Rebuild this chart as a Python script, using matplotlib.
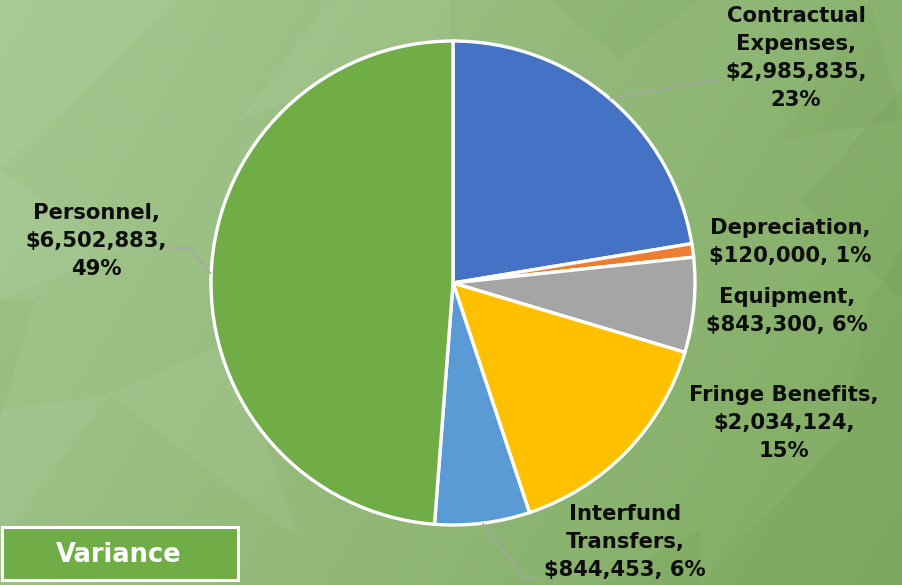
import numpy as np
import matplotlib
matplotlib.use("Agg")
import matplotlib.pyplot as plt
from matplotlib.patches import Polygon, Rectangle
from matplotlib.colors import to_rgb

# Budget categories (clockwise from 12 o'clock)
categories = ["Contractual Expenses", "Depreciation", "Equipment",
              "Fringe Benefits", "Interfund Transfers", "Personnel"]
amounts = [2985835, 120000, 843300, 2034124, 844453, 6502883]
pct_labels = ["23%", "1%", "6%", "15%", "6%", "49%"]
colors = ["#4472C4", "#ED7D31", "#A5A5A5", "#FFC000", "#5B9BD5", "#70AD47"]

W, H = 902, 585
fig = plt.figure(figsize=(W / 100, H / 100), dpi=100)
ax = fig.add_axes([0, 0, 1, 1])
ax.set_xlim(0, W)
ax.set_ylim(0, H)
ax.axis("off")

# ---- faceted green backdrop ----
yy, xx = np.mgrid[0:H, 0:W]
t = 0.72 * (xx / W) + 0.28 * ((H - yy) / H)
t = (t - t.min()) / (t.max() - t.min())
c0 = np.array(to_rgb("#a5c791"))
c1 = np.array(to_rgb("#80ab62"))
grad = c0[None, None, :] * (1 - t[..., None]) + c1[None, None, :] * t[..., None]
ax.imshow(grad, extent=(0, W, 0, H), origin="lower", zorder=0, aspect="auto")


def flip(pts):
    # polygon corners given from the top-left corner, y pointing down
    return [(x, H - y) for x, y in pts]


facets_light = [
    [(0, 0), (25, 0), (0, 60)],
    [(25, 0), (180, 0), (0, 170), (0, 60)],
    [(330, 0), (450, 0), (450, 40)],
    [(330, 0), (240, 120), (450, 40)],
    [(0, 540), (110, 395), (0, 410)],
    [(110, 395), (300, 540), (230, 340)],
    [(560, 380), (700, 330), (600, 250)],
    [(0, 170), (120, 250), (0, 300)],
]
facets_dark = [
    [(700, 585), (902, 585), (902, 380), (840, 440)],
    [(800, 200), (902, 90), (902, 300)],
    [(0, 300), (35, 300), (0, 420)],
    [(780, 140), (902, 120), (870, 0)],
    [(840, 440), (902, 380), (902, 250), (870, 300)],
    [(550, 0), (700, 0), (620, 60)],
    [(600, 585), (700, 585), (700, 530)],
]
for pts in facets_light:
    ax.add_patch(Polygon(flip(pts), closed=True, facecolor="white", alpha=0.05,
                         edgecolor="none", zorder=1))
for pts in facets_dark:
    ax.add_patch(Polygon(flip(pts), closed=True, facecolor="#3d6b20", alpha=0.05,
                         edgecolor="none", zorder=1))

# ---- pie ----
cx, cy, R = 453, H - 283, 242
wedges, _ = ax.pie(amounts, colors=colors, startangle=90, counterclock=False,
                   center=(cx, cy), radius=R, frame=True,
                   wedgeprops=dict(edgecolor="white", linewidth=2.4))
for w in wedges:
    w.set_zorder(3)
ax.set_xlim(0, W)
ax.set_ylim(0, H)
ax.set_aspect("equal")
ax.axis("off")


def edge_point(w):
    ang = np.deg2rad((w.theta1 + w.theta2) / 2)
    return cx + R * np.cos(ang), cy + R * np.sin(ang)


def money(v):
    return "${:,}".format(v)


txt = dict(fontsize=15.2, fontweight="bold", color="#0d0d0d",
           ha="center", va="center", linespacing=1.5, zorder=5,
           family="DejaVu Sans")

labels = [
    "Contractual\nExpenses,\n{},\n{}".format(money(amounts[0]), pct_labels[0]),
    "Depreciation,\n{}, {}".format(money(amounts[1]), pct_labels[1]),
    "Equipment,\n{}, {}".format(money(amounts[2]), pct_labels[2]),
    "Fringe Benefits,\n{},\n{}".format(money(amounts[3]), pct_labels[3]),
    "Interfund\nTransfers,\n{}, {}".format(money(amounts[4]), pct_labels[4]),
    "Personnel,\n{},\n{}".format(money(amounts[5]), pct_labels[5]),
]
label_pos = [(796, 58), (790, 242), (787, 311), (784, 423), (625, 542), (96, 241)]
for s, (x, y) in zip(labels, label_pos):
    ax.text(x, H - y, s, **txt)

# leader lines
lc = dict(color="#a6a6a6", linewidth=1.1, zorder=4, solid_capstyle="butt")
x0, y0 = edge_point(wedges[0])
ax.plot([x0, 720], [y0, H - 79], **lc)
x0, y0 = edge_point(wedges[5])
ax.plot([x0, 190, 174], [y0, H - 248, H - 248], **lc)
x0, y0 = edge_point(wedges[4])
ax.plot([x0, 523, 537], [y0, H - 578, H - 578], **lc)

# ---- title tag ----
ax.add_patch(Rectangle((1.5, H - 580), 236, 53, facecolor="#70AD47",
                       edgecolor="white", linewidth=2.2, zorder=6))
ax.text(119, H - 555, "Variance", fontsize=18.5, fontweight="bold",
        color="white", ha="center", va="center", zorder=7, family="DejaVu Sans")

fig.savefig("out.png", dpi=100)
